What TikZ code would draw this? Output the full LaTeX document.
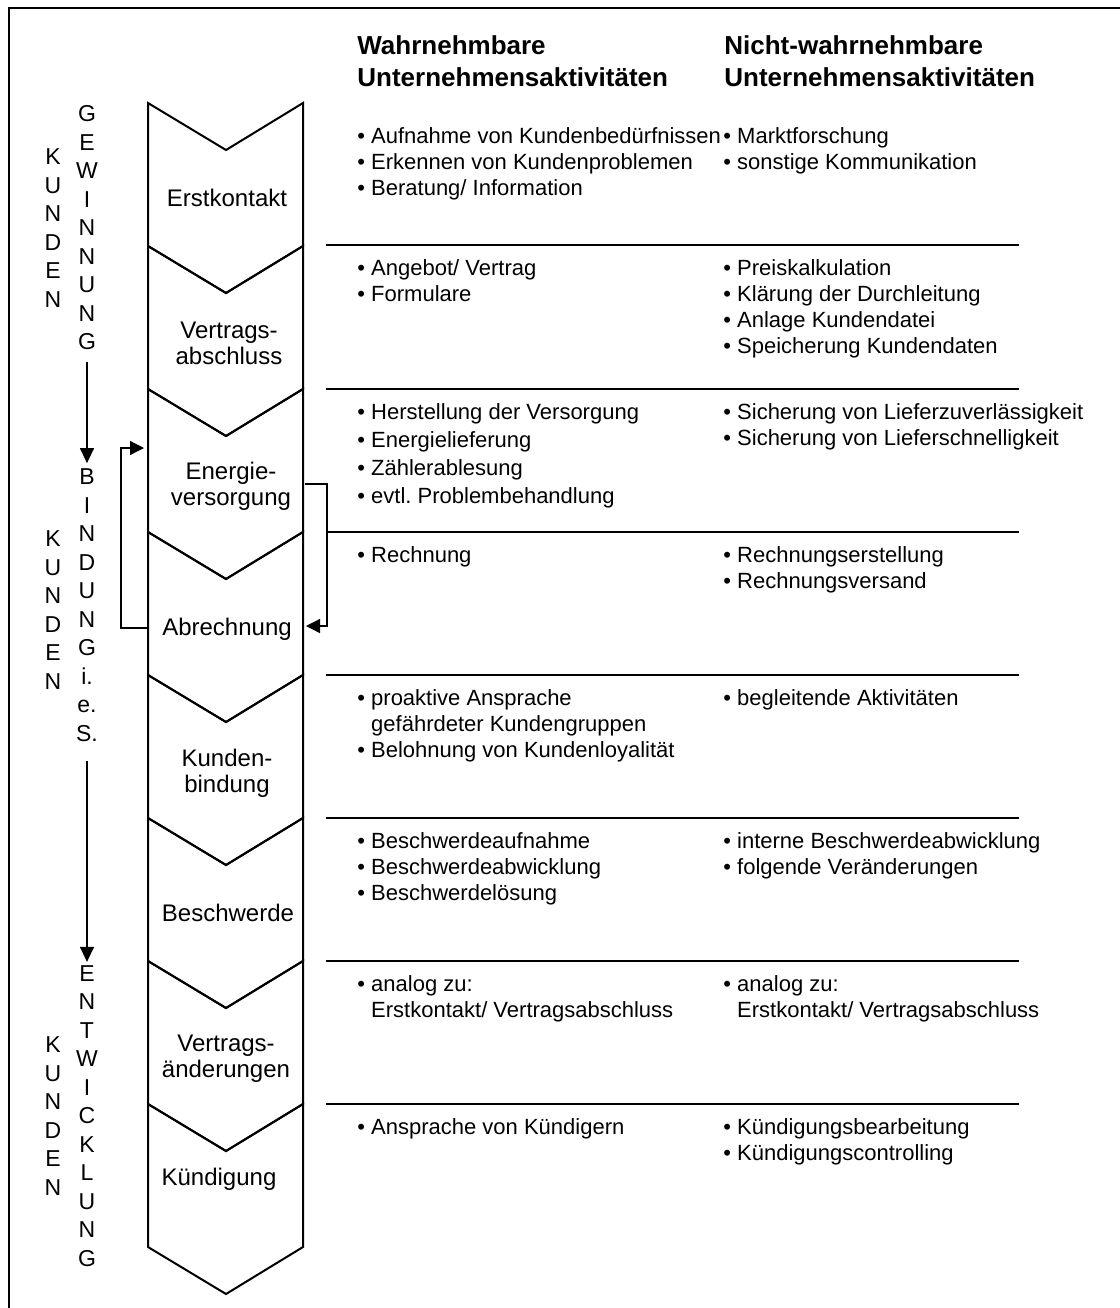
\documentclass[tikz,border=0pt]{standalone}
\usepackage{fontspec}
\setmainfont{Liberation Sans}
\usetikzlibrary{arrows.meta}
\frenchspacing

\newcommand{\actitem}{\textbullet\ }
\newcommand{\actindent}{\phantom{\textbullet\ }}

\begin{document}
\begin{tikzpicture}[
    x=0.5pt, y=-0.5pt,
    chevron/.style={draw=black, line width=1pt, line join=miter},
    stagelabel/.style={align=center, inner sep=0pt, font=\fontsize{12}{13}\selectfont},
    headlabel/.style={anchor=north west, align=left, inner sep=0pt, font=\bfseries\fontsize{13}{16}\selectfont},
    actlist/.style={anchor=north west, align=left, inner sep=0pt, font=\fontsize{11}{13}\selectfont},
    phaselabel/.style={align=center, inner xsep=2pt, inner ysep=5pt, font=\fontsize{11.5}{14.25}\selectfont},
    divider/.style={line width=0.65pt},
    phasearrow/.style={line width=0.65pt, -{Triangle[length=7.5pt, width=7pt]}},
    looparrow/.style={line width=0.65pt, -{Triangle[length=7pt, width=7pt]}}
  ]
  \useasboundingbox (0,0) rectangle (1120,1308);

  % Frame
  \draw[line width=1pt] (9,1308) -- (9,8) -- (1120,8);

  % Column heads
  \node[headlabel] (headvis) at (357,35) {Wahrnehmbare\\Unternehmensaktivitäten};
  \node[headlabel] (headhid) at (724,35) {Nicht-wahrnehmbare\\Unternehmensaktivitäten};

  % Chevrons
  \foreach \t in {103,246,389,532,675,818,961,1104}
    \draw[chevron] (148,\t) -- (226,\t+47) -- (303,\t) -- (303,\t+143) -- (226,\t+190) -- (148,\t+143) -- cycle;

  \node[stagelabel] (erst) at (227,198) {Erstkontakt};
  \node[stagelabel] (vertrag) at (229,343) {Vertrags-\\abschluss};
  \node[stagelabel] (energie) at (231,486.5) {Energie-\\versorgung};
  \node[stagelabel] (abrech) at (227,629.5) {Abrechnung};
  \node[stagelabel] (kbind) at (227,773.5) {Kunden-\\bindung};
  \node[stagelabel] (beschw) at (228,913) {Beschwerde};
  \node[stagelabel] (aender) at (226,1058.5) {Vertrags-\\änderungen};
  \node[stagelabel] (kuend) at (219,1179.5) {Kündigung};

  % Dividers
  \draw[divider] (326,245) -- (1019,245);
  \draw[divider] (326,389) -- (1019,389);
  \draw[divider] (326,532) -- (1019,532);
  \draw[divider] (326,675) -- (1019,675);
  \draw[divider] (326,818) -- (1019,818);
  \draw[divider] (326,961) -- (1019,961);
  \draw[divider] (326,1104) -- (1019,1104);

  % Activities
  \node[actlist] (erstvis) at (357,127) {\actitem Aufnahme von Kundenbedürfnissen\\\actitem Erkennen von Kundenproblemen\\\actitem Beratung/ Information};
  \node[actlist] (ersthid) at (723,127) {\actitem Marktforschung\\\actitem sonstige Kommunikation};

  \node[actlist] (vertragvis) at (357,259.5) {\actitem Angebot/ Vertrag\\\actitem Formulare};
  \node[actlist] (vertraghid) at (723,259.5) {\actitem Preiskalkulation\\\actitem Klärung der Durchleitung\\\actitem Anlage Kundendatei\\\actitem Speicherung Kundendaten};

  \node[actlist, font=\fontsize{11}{14}\selectfont] (energievis) at (357,403.5) {\actitem Herstellung der Versorgung\\\actitem Energielieferung\\\actitem Zählerablesung\\\actitem evtl. Problembehandlung};
  \node[actlist] (energiehid) at (723,403.5) {\actitem Sicherung von Lieferzuverlässigkeit\\\actitem Sicherung von Lieferschnelligkeit};

  \node[actlist] (abrechvis) at (357,546.5) {\actitem Rechnung};
  \node[actlist] (abrechhid) at (723,546.5) {\actitem Rechnungserstellung\\\actitem Rechnungsversand};

  \node[actlist] (kbindvis) at (357,689.5) {\actitem proaktive Ansprache\\\actindent gefährdeter Kundengruppen\\\actitem Belohnung von Kundenloyalität};
  \node[actlist] (kbindhid) at (723,689.5) {\actitem begleitende Aktivitäten};

  \node[actlist] (beschwvis) at (357,832.5) {\actitem Beschwerdeaufnahme\\\actitem Beschwerdeabwicklung\\\actitem Beschwerdelösung};
  \node[actlist] (beschwhid) at (723,832.5) {\actitem interne Beschwerdeabwicklung\\\actitem folgende Veränderungen};

  \node[actlist] (aendervis) at (357,975.5) {\actitem analog zu:\\\actindent Erstkontakt/ Vertragsabschluss};
  \node[actlist] (aenderhid) at (723,975.5) {\actitem analog zu:\\\actindent Erstkontakt/ Vertragsabschluss};

  \node[actlist] (kuendvis) at (357,1118.5) {\actitem Ansprache von Kündigern};
  \node[actlist] (kuendhid) at (723,1118.5) {\actitem Kündigungsbearbeitung\\\actitem Kündigungscontrolling};

  % Feedback loop Energieversorgung / Abrechnung
  \coordinate (energieW) at (144,448);
  \coordinate (abrechW) at (148,628);
  \coordinate (energieE) at (305,484);
  \coordinate (abrechE) at (306,626);
  \draw[looparrow] (abrechW) -- ++(-27,0) |- (energieW);
  \draw[looparrow] (energieE) -- ++(22,0) |- (abrechE);

  % Customer phases
  \node[phaselabel] (kundenA) at (53,228) {K\\U\\N\\D\\E\\N};
  \node[phaselabel] (gewinnung) at (87,228) {G\\E\\W\\I\\N\\N\\U\\N\\G};
  \node[phaselabel] (kundenB) at (53,610) {K\\U\\N\\D\\E\\N};
  \node[phaselabel] (bindung) at (87,605) {B\\I\\N\\D\\U\\N\\G\\i.\\e.\\S.};
  \node[phaselabel] (kundenC) at (53,1116) {K\\U\\N\\D\\E\\N};
  \node[phaselabel] (entwicklung) at (87,1116) {E\\N\\T\\W\\I\\C\\K\\L\\U\\N\\G};

  \draw[phasearrow, shorten <=0.75pt, shorten >=-2.4pt] (gewinnung.south) -- (bindung.north);
  \draw[phasearrow, shorten <=4.75pt, shorten >=-3.4pt] (bindung.south) -- (entwicklung.north);
\end{tikzpicture}
\end{document}
